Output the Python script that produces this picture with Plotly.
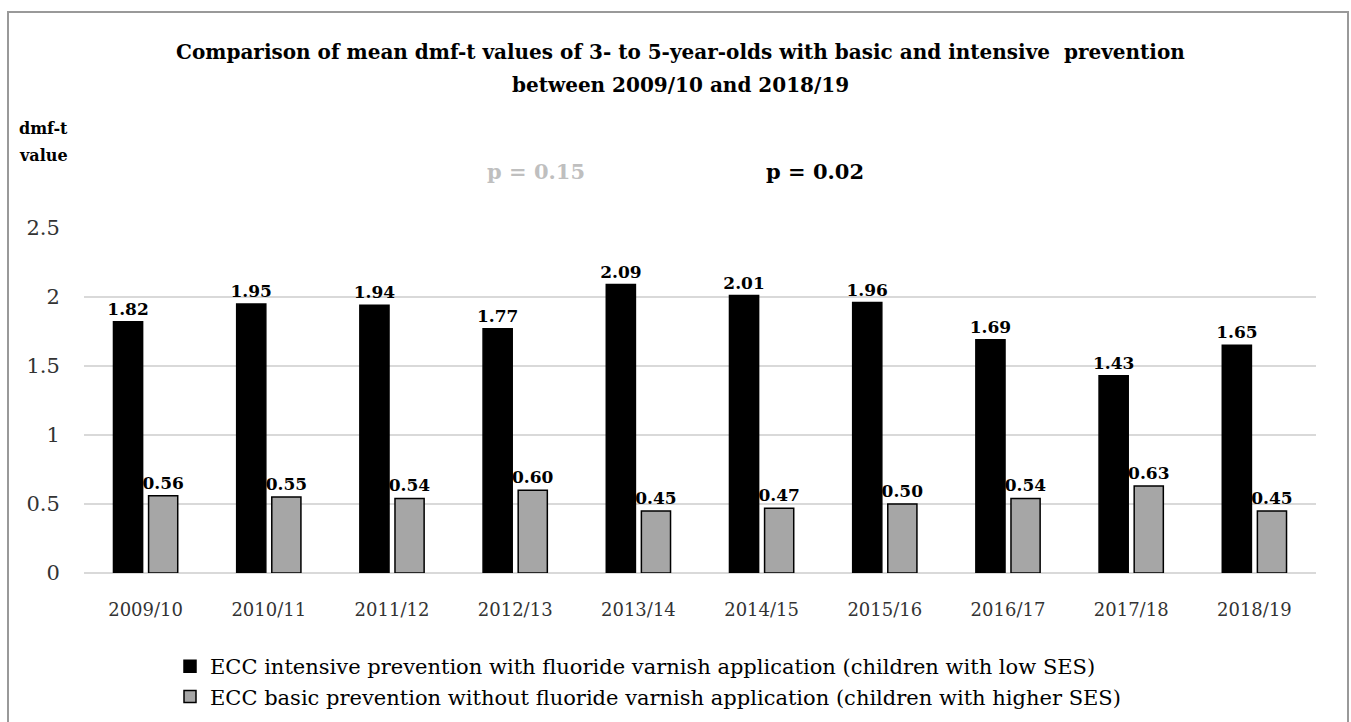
import plotly.graph_objects as go

categories = ["2009/10", "2010/11", "2011/12", "2012/13", "2013/14",
              "2014/15", "2015/16", "2016/17", "2017/18", "2018/19"]
intensive = [1.82, 1.95, 1.94, 1.77, 2.09, 2.01, 1.96, 1.69, 1.43, 1.65]
basic = [0.56, 0.55, 0.54, 0.60, 0.45, 0.47, 0.50, 0.54, 0.63, 0.45]
y_ticks = [0, 0.5, 1, 1.5, 2, 2.5]
y_tick_labels = ["0", "0.5", "1", "1.5", "2", "2.5"]

name_int = "ECC intensive prevention with fluoride varnish application (children with low SES)"
name_bas = "ECC basic prevention without fluoride varnish application (children with higher SES)"

FONT = "DejaVu Serif"
W, H = 1351, 722
L, R, T, B = 84, 35, 228, 149
PW, PH = W - L - R, H - T - B

def px(x):
    return (x - L) / PW

def py(y):
    return (H - B - y) / PH

fig = go.Figure()
fig.add_trace(go.Bar(
    x=categories, y=intensive, name=name_int,
    marker=dict(color="#000000", line=dict(color="#000000", width=1.5)),
    texttemplate="%{y:.2f}", textposition="outside", cliponaxis=False,
    constraintext="none",
    textfont=dict(family=FONT, size=17, color="#000000", weight="bold"),
))
fig.add_trace(go.Bar(
    x=categories, y=basic, name=name_bas,
    marker=dict(color="#a6a6a6", line=dict(color="#000000", width=1.5)),
    texttemplate="%{y:.2f}", textposition="outside", cliponaxis=False,
    constraintext="none",
    textfont=dict(family=FONT, size=17, color="#000000", weight="bold"),
))

fig.update_layout(
    width=W, height=H,
    margin=dict(l=L, r=R, t=T, b=B, autoexpand=False),
    paper_bgcolor="white", plot_bgcolor="white",
    barmode="group", bargap=0.43, bargroupgap=0.17,
    font=dict(family=FONT, color="#000000"),
    showlegend=True,
    legend=dict(
        orientation="v", x=px(170), y=py(646), xanchor="left", yanchor="top",
        font=dict(family=FONT, size=21, color="#000000"),
        itemwidth=30, tracegroupgap=0, bgcolor="rgba(0,0,0,0)",
    ),
    xaxis=dict(
        automargin=False,
        tickfont=dict(family=FONT, size=18, color="#333333"),
        showgrid=False, showline=False, zeroline=False,
        ticks="outside", ticklen=20, tickcolor="rgba(0,0,0,0)",
    ),
    yaxis=dict(
        automargin=False,
        range=[0, 2.5], tickvals=y_ticks, ticktext=y_tick_labels,
        tickfont=dict(family=FONT, size=21, color="#333333"),
        showgrid=True, gridcolor="#d9d9d9", gridwidth=1.5,
        zeroline=True, zerolinecolor="#d9d9d9", zerolinewidth=1.5,
        showline=False,
        ticks="outside", ticklen=19, tickcolor="rgba(0,0,0,0)",
    ),
)

# outer frame
fig.add_shape(type="rect", xref="paper", yref="paper",
              x0=px(8), x1=px(1348), y0=py(730), y1=py(12),
              line=dict(color="#999999", width=2), fillcolor="rgba(0,0,0,0)",
              layer="below")

annots = [
    dict(text="<b>Comparison of mean dmf-t values of 3- to 5-year-olds with basic and intensive  prevention</b>",
         x=px(680), y=py(52), size=20, color="#000000", xanchor="center"),
    dict(text="<b>between 2009/10 and 2018/19</b>",
         x=px(680), y=py(85), size=20, color="#000000", xanchor="center"),
    dict(text="<b>dmf-t</b>", x=px(17), y=py(128), size=16, color="#000000", xanchor="left"),
    dict(text="<b>value</b>", x=px(17), y=py(155), size=16, color="#000000", xanchor="left"),
    dict(text="<b>p = 0.15</b>", x=px(536), y=py(171), size=21, color="#bfbfbf", xanchor="center"),
    dict(text="<b>p = 0.02</b>", x=px(815), y=py(171), size=21, color="#000000", xanchor="center"),
]
for a in annots:
    fig.add_annotation(text=a["text"], x=a["x"], y=a["y"], xref="paper", yref="paper",
                       xanchor=a["xanchor"], yanchor="middle", showarrow=False,
                       font=dict(family=FONT, size=a["size"], color=a["color"]))

fig.write_html("out.html", config={"displayModeBar": False},
               post_script="document.body.style.margin='0px';")
